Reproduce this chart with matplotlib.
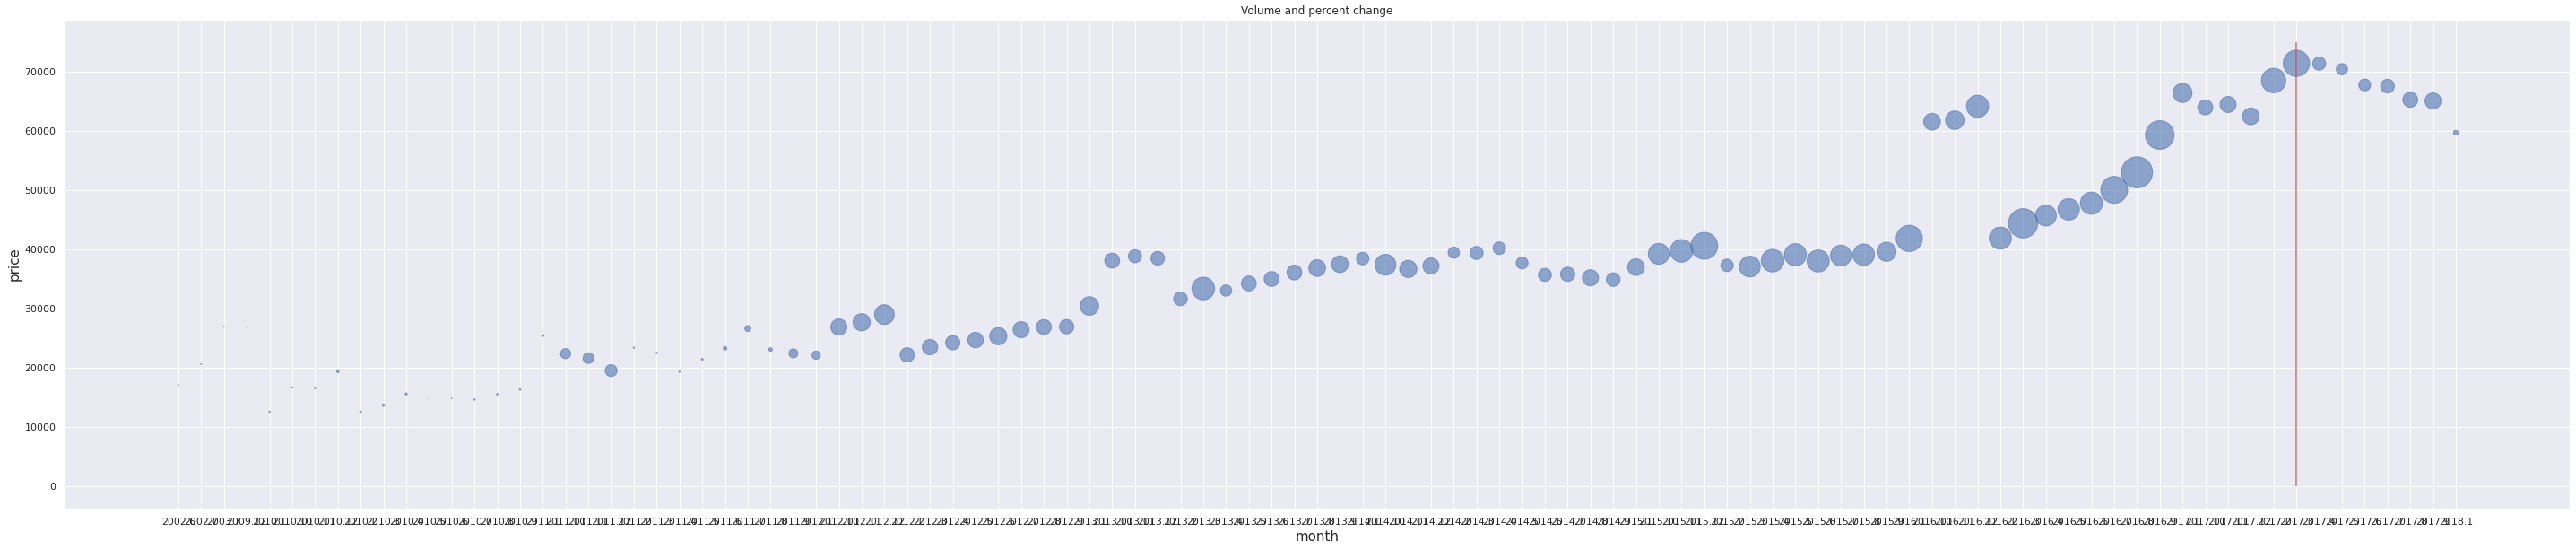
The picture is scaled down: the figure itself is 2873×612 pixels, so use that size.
import matplotlib
matplotlib.use("Agg")
import matplotlib.pyplot as plt
import seaborn as sns

# month labels, kept in the (string-sorted) order of the original data
months = ["2002.6", "2002.7", "2003.7", "2009.12"]
for year in range(2010, 2018):
    for m in ["1", "10", "11", "12", "2", "3", "4", "5", "6", "7", "8", "9"]:
        months.append(f"{year}.{m}")
months.append("2018.1")

price = [
    17100, 20650, 27000, 27000,
    12600, 16700, 16600, 19400, 12600, 13700, 15600, 14850, 14850, 14650, 15550, 16350,
    25450, 22400, 21650, 19550, 23400, 22550, 19350, 21450, 23300, 26650, 23100, 22450,
    22150, 26900, 27700, 29000, 22200, 23500, 24250, 24700, 25350, 26450, 26900, 26950,
    30450, 38100, 38850, 38500, 31650, 33400, 33050, 34250, 35000, 36100, 36850, 37500,
    38450, 37400, 36700, 37200, 39450, 39400, 40200, 37700, 35700, 35800, 35200, 34900,
    37000, 39250, 39750, 40600, 37300, 37100, 38100, 39100, 38050, 38950, 39100, 39600,
    41850, 61550, 61800, 64150, 41900, 44400, 45700, 46750, 47800, 50050, 53000, 59300,
    66400, 63950, 64450, 62450, 68500, 71400, 71350, 70400, 67750, 67550, 65250, 65050,
    59700,
]

# trading volume (relative units, drawn as bubble area)
volume = [
    1, 1, 0.5, 0.5,
    2, 2, 3, 7, 3, 7, 5, 0.6, 0.6, 2.5, 3, 3,
    5, 128, 144, 177, 2, 2.5, 2, 4, 16, 45, 16, 100,
    86, 324, 372, 484, 256, 300, 256, 300, 372, 324, 279, 256,
    428, 279, 216, 234, 234, 640, 161, 279, 279, 279, 350, 350,
    196, 543, 372, 324, 161, 216, 196, 177, 216, 256, 324, 234,
    350, 543, 640, 900, 196, 543, 640, 610, 610, 543, 576, 454,
    858, 350, 428, 610, 610, 1069, 543, 576, 610, 900, 1204, 1024,
    454, 279, 324, 350, 745, 858, 216, 161, 177, 234, 279, 324,
    28,
]

red_month = "2017.3"

sns.set()

fig = plt.figure(figsize=(2873 / 72, 612 / 72), dpi=72)
ax = fig.add_axes([0.02506, 0.0735, 0.9725, 0.8905])

ax.scatter(months, price, s=volume, alpha=0.6)
ax.vlines(months.index(red_month), 0, 75000, color="r", alpha=0.8)

ax.set_title("Volume and percent change")
ax.set_xlabel("month", fontsize=15)
ax.set_ylabel("price", fontsize=15)

fig.savefig("out.png", dpi=72)
